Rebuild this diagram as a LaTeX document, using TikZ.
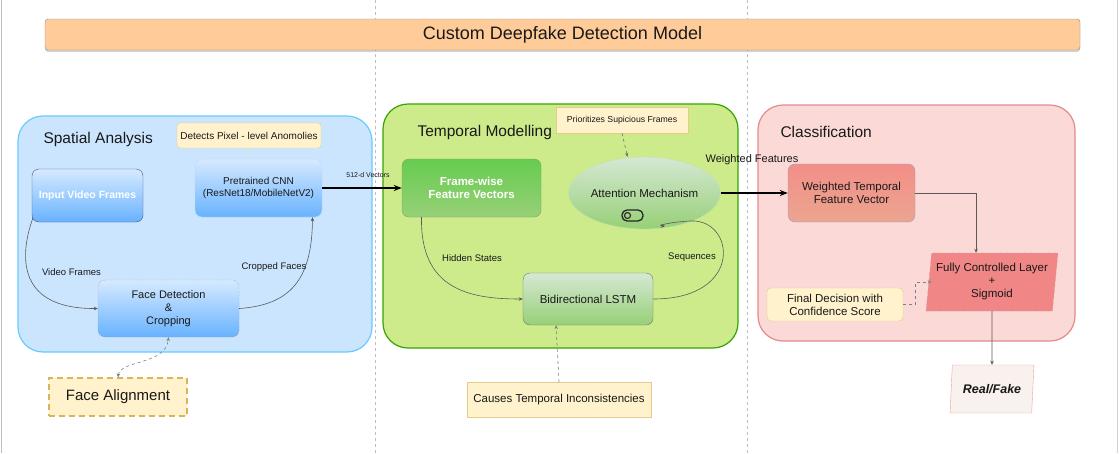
\documentclass[tikz,border=0pt]{standalone}
\usepackage{fontspec}
\setmainfont{Liberation Sans}
\usetikzlibrary{arrows.meta,shapes.geometric,shadows}

\definecolor{bluetop}{RGB}{214,234,255}
\definecolor{bluebot}{RGB}{104,178,255}
\definecolor{greentop}{RGB}{102,204,80}
\definecolor{greenbot}{RGB}{151,208,119}
\definecolor{palegreen}{RGB}{213,232,212}
\definecolor{redtop}{RGB}{243,142,136}
\definecolor{redbot}{RGB}{235,165,143}
\definecolor{notefill}{RGB}{255,242,204}
\definecolor{notedraw}{RGB}{214,182,86}
\definecolor{flowgray}{RGB}{90,90,90}
\definecolor{pagegray}{RGB}{190,190,190}

\tikzset{
  every node/.style={font=\fontsize{11}{13}\selectfont, text=black!90},
  group/.style={line width=1.2pt, rounded corners=25pt},
  grouptitle/.style={anchor=west, font=\fontsize{15.5}{18}\selectfont},
  box/.style={rounded corners=7pt, inner sep=0pt, align=center},
  bluebox/.style={box, top color=bluetop, bottom color=bluebot, draw=bluetop!70!bluebot},
  greenbox/.style={box, top color=greentop, bottom color=greenbot, draw=greenbot!80!black},
  note/.style={fill=notefill, draw=notedraw!70, inner sep=0pt, align=center},
  slanted/.style={trapezium, trapezium stretches, trapezium left angle=80, trapezium right angle=100, inner sep=0pt, align=center},
  flow/.style={draw=flowgray, line width=0.6pt, -{Stealth[length=4pt,width=3.5pt]}},
  bigflow/.style={draw=black, line width=1.5pt, -{Stealth[length=8pt,width=6pt]}},
  hint/.style={flow, dashed, draw=gray},
  edgelabel/.style={font=\fontsize{9.5}{11}\selectfont},
}

\begin{document}
\begin{tikzpicture}[x=1pt, y=1pt]
		\useasboundingbox (0,0) rectangle (1119,-453);
		%%%%% PAGE %%%%%
		\draw[pagegray, line width=1pt] (1,0) -- (1,-453);
		\draw[pagegray!70, line width=1pt] (1117,0) -- (1117,-453);
		\draw[pagegray, dashed] (375,0) -- (375,-453);
		\draw[pagegray, dashed] (747,0) -- (747,-453);
		
		\node[draw=black!45, fill={rgb,255:red,255;green,204;blue,153}, rounded corners=3pt,
		      minimum width=1035, minimum height=31, inner sep=0pt,
		      drop shadow={shadow xshift=0pt, shadow yshift=-2pt, opacity=0.35},
		      font=\fontsize{18}{21}\selectfont] (title) at (562.5,-34.5) {Custom Deepfake Detection Model};
		
		%%%%% SPATIAL %%%%%
		\draw[group, draw={rgb,255:red,102;green,204;blue,255}, fill={rgb,255:red,204;green,229;blue,255}] (18,-116) rectangle (372,-352);
		\node[grouptitle] (spatial) at (40,-139) {Spatial Analysis};
		
		\node[note, minimum width=144, minimum height=25, rounded corners=3pt, font=\fontsize{10}{12}\selectfont] (pixel) at (249,-135.5) {Detects Pixel - level Anomolies};
		\node[bluebox, minimum width=127, minimum height=58, font=\fontsize{10}{12.5}\selectfont] (cnn) at (258.5,-188) {Pretrained CNN\\(ResNet18/MobileNetV2)};
		\node[bluebox, draw={rgb,255:red,86;green,81;blue,126}, minimum width=111, minimum height=53, text=white, font=\bfseries\fontsize{10.5}{12}\selectfont] (input) at (87.5,-195.5) {Input Video Frames};
		\node[bluebox, draw=gray, densely dotted, minimum width=141, minimum height=57] (face) at (168.5,-308.5) {Face Detection\\\&\\Cropping};
		\node[note, draw=notedraw, line width=1.2pt, dashed, dash pattern=on 6pt off 4pt, minimum width=138, minimum height=38, font=\fontsize{15}{18}\selectfont] (align) at (118,-397) {Face Alignment};
		
		\draw[flow] ([xshift=1pt,yshift=4pt]input.south west) .. controls (18,-260) and (20,-309) .. (face.west);
		\node[edgelabel] (lblframes) at (71.5,-272) {Video Frames};
		\draw[flow] (face.east) .. controls (290,-305) and (312,-280) .. ([xshift=54pt]cnn.south);
		\node[edgelabel] (lblcropped) at (274,-267) {Cropped Faces};
		\draw[hint, {Stealth[length=4pt,width=3.5pt]}-{Stealth[length=4pt,width=3.5pt]}] (align.north) .. controls (120,-360) and (166,-365) .. (face.south);
		\draw[draw=notedraw!40, densely dotted, line width=1pt] (pixel.south) -- (pixel.south |- cnn.north);
		
		%%%%% TEMPORAL %%%%%
		\draw[group, draw={rgb,255:red,54;green,163;blue,0}, fill={rgb,255:red,205;green,235;blue,139}] (383,-104) rectangle (738,-348);
		\node[grouptitle] (temporal) at (414,-132) {Temporal Modelling};
		
		\node[note, minimum width=132, minimum height=26, font=\fontsize{8.7}{10}\selectfont] (prio) at (622,-120) {Prioritizes Supicious Frames};
		\node[greenbox, minimum width=139, minimum height=58, text=white, font=\bfseries\fontsize{11.5}{13}\selectfont] (frames) at (471.5,-188) {Frame-wise\\Feature Vectors};
		\node[ellipse, top color=palegreen, bottom color=greenbot, draw=greenbot!60, minimum width=127, minimum height=72, inner sep=0pt, font=\fontsize{11.5}{13}\selectfont] (attn) at (644.5,-193) {Attention Mechanism};
		\draw[black!85, line width=1.3pt, rounded corners=5pt] (622,-210) rectangle (643,-221);
		\draw[black!85, line width=1.1pt] (627.5,-215.5) circle (3);
		\node[box, top color=palegreen, bottom color=greenbot, draw=black!55, minimum width=130, minimum height=52, font=\fontsize{11.5}{13}\selectfont] (lstm) at (588,-299) {Bidirectional LSTM};
		\node[note, minimum width=184, minimum height=35, font=\fontsize{11.5}{13}\selectfont] (causes) at (559,-399.5) {Causes Temporal Inconsistencies};
		
		\draw[bigflow] (cnn.east) -- (frames.west);
		\node[font=\fontsize{7}{8}\selectfont] (lblvectors) at (368,-175) {512-d Vectors};
		\draw[flow] ([xshift=-50pt]frames.south) .. controls (420,-290) and (470,-299) .. (lstm.west);
		\node[edgelabel] (lblhidden) at (472,-258) {Hidden States};
		\coordinate (seqin) at (665,-226);
		\draw[flow] (lstm.east) .. controls (745,-299) and (735,-218) .. (690,-221) .. controls (670,-222) and (655,-226) .. (seqin);
		\node[edgelabel] (lblseq) at (692,-257) {Sequences};
		\draw[hint, draw=black!55] (prio.south) -- ([xshift=-17pt]attn.north);
		\draw[hint] (causes.north) -- ([xshift=-32pt]lstm.south);
		
		%%%%% CLASSIFICATION %%%%%
		\draw[group, draw={rgb,255:red,226;green,140;blue,140}, fill={rgb,255:red,250;green,217;blue,215}] (758,-105) rectangle (1075,-341);
		\node[grouptitle] (classif) at (777,-132) {Classification};
		
		\node[box, top color=redtop, bottom color=redbot, draw={rgb,255:red,150;green,160;blue,200}, minimum width=127, minimum height=58, font=\fontsize{11.5}{13}\selectfont] (wtfv) at (851.5,-193) {Weighted Temporal\\Feature Vector};
		\node[slanted, trapezium left angle=82, trapezium right angle=98,
		      fill={rgb,255:red,240;green,134;blue,134}, draw={rgb,255:red,230;green,150;blue,150}, dashed,
		      minimum width=132, minimum height=58, font=\fontsize{11.5}{13}\selectfont] (fcl) at (992,-282) {Fully Controlled Layer\\+\\Sigmoid};
		\node[note, rounded corners=4pt, minimum width=136, minimum height=33, font=\fontsize{11.5}{13}\selectfont] (final) at (835,-304.5) {Final Decision with\\Confidence Score};
		\node[slanted, fill={rgb,255:red,248;green,241;blue,238}, draw={rgb,255:red,230;green,165;blue,160},
		      minimum width=84, minimum height=48, font=\bfseries\itshape\fontsize{12.5}{14}\selectfont] (real) at (992,-389) {Real/Fake};
		
		\draw[bigflow] (attn.east) -- (wtfv.west);
		\node (lblweighted) at (752,-160) {Weighted Features};
		\draw[flow] (wtfv.east) -| ([xshift=-16pt]fcl.north);
		\draw[hint] (final.east) -- ++(12,0) |- ([xshift=3pt]fcl.west);
		\draw[flow] (fcl.south) -- (real.north);
		
		%%%%% END %%%%%
	\end{tikzpicture}
\end{document}
